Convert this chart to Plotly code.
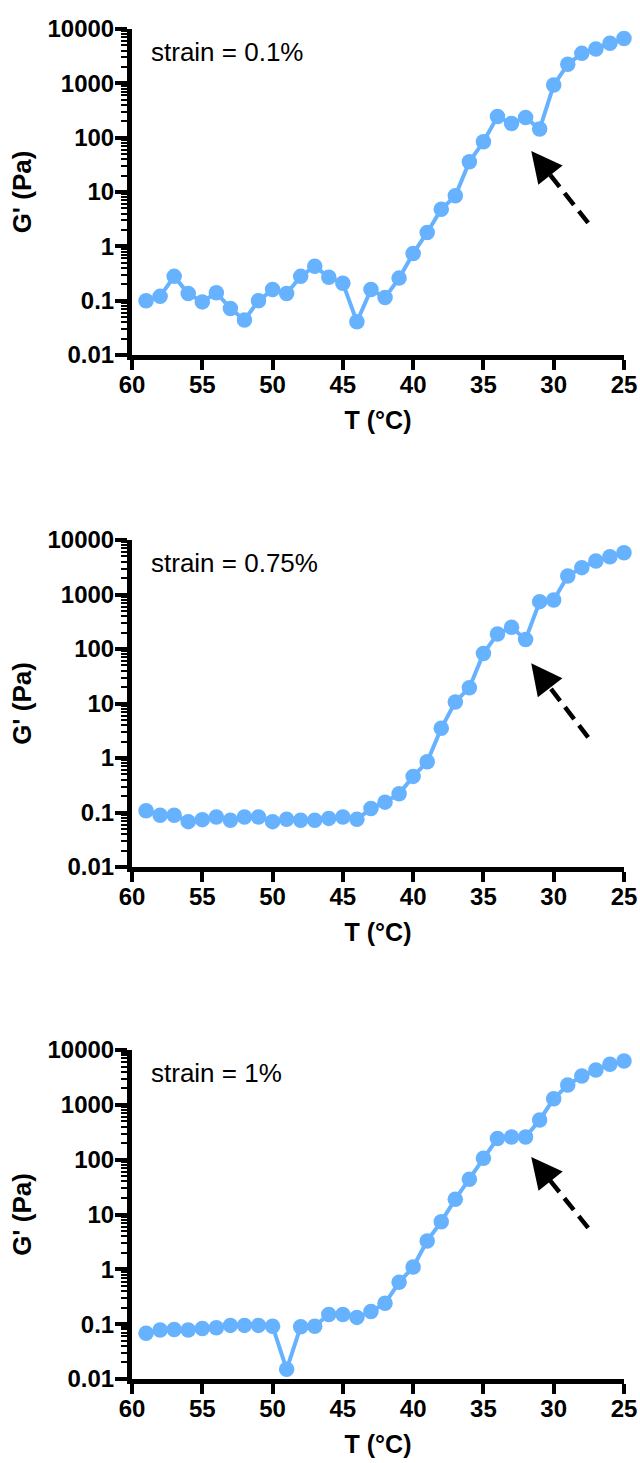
import numpy as np
import plotly.graph_objects as go

# ---------------- data ----------------
temps = list(range(59, 24, -1))  # 59 .. 25 °C

g_strain_01 = [0.10, 0.12, 0.28, 0.135, 0.095, 0.14, 0.072, 0.044, 0.10, 0.16,
               0.135, 0.28, 0.43, 0.27, 0.21, 0.041, 0.16, 0.114, 0.26, 0.74,
               1.8, 4.8, 8.5, 36, 84, 245, 183, 235, 144, 930,
               2240, 3560, 4300, 5470, 6700]

g_strain_075 = [0.108, 0.089, 0.089, 0.068, 0.074, 0.083, 0.072, 0.083, 0.083, 0.068,
                0.075, 0.072, 0.072, 0.078, 0.083, 0.075, 0.118, 0.155, 0.22, 0.46,
                0.85, 3.5, 10.7, 19.5, 83, 188, 250, 150, 740, 790,
                2190, 3110, 4100, 4940, 5850]

g_strain_1 = [0.068, 0.078, 0.080, 0.078, 0.083, 0.086, 0.095, 0.095, 0.095, 0.092,
              0.015, 0.090, 0.092, 0.15, 0.15, 0.133, 0.17, 0.24, 0.58, 1.1,
              3.3, 7.4, 19, 44, 106, 244, 258, 258, 530, 1290,
              2300, 3350, 4320, 5480, 6280]

panel_labels = ["strain = 0.1%", "strain = 0.75%", "strain = 1%"]
series = [g_strain_01, g_strain_075, g_strain_1]

# dashed arrows (tail -> tip) in data units: T (°C), G' (Pa)
arrow_tail_T = [27.55, 27.55, 27.55]
arrow_tail_G = [2.7, 2.4, 5.7]
arrow_tip_T = [31.6, 31.6, 31.6]
arrow_tip_G = [57, 55, 112]

x_ticks = [60, 55, 50, 45, 40, 35, 30, 25]
y_ticks = [0.01, 0.1, 1, 10, 100, 1000, 10000]
y_ticktext = ["0.01", "0.1", "1", "10", "100", "1000", "10000"]

# ---------------- layout geometry ----------------
W, H = 640, 1463
x_dom = [132 / W, 624 / W]
panel_px = [(29, 355), (540, 867), (1050, 1379)]  # page y of top / bottom
y_doms = [[1 - b / H, 1 - t / H] for t, b in panel_px]

LINE_COLOR = "#66B2FF"
FONT = "Liberation Sans, Arial, sans-serif"

minor_vals = [m * 10.0 ** e for e in range(-2, 4) for m in range(2, 10)]

fig = go.Figure()
annotations = []

for i, (vals, label) in enumerate(zip(series, panel_labels)):
    xa = "x" if i == 0 else f"x{i+1}"
    ya = "y" if i == 0 else f"y{i+1}"
    fig.add_trace(go.Scatter(
        x=temps, y=vals, xaxis=xa, yaxis=ya, mode="lines+markers",
        line=dict(color=LINE_COLOR, width=4),
        marker=dict(color=LINE_COLOR, size=15.5),
        cliponaxis=False, showlegend=False, hoverinfo="skip"))

    # dashed arrow shaft
    lt0, lg0 = arrow_tail_T[i], np.log10(arrow_tail_G[i])
    lt1, lg1 = arrow_tip_T[i], np.log10(arrow_tip_G[i])
    f = 0.26  # portion of the arrow covered by the solid head
    mid_T = lt1 + (lt0 - lt1) * f
    mid_lg = lg1 + (lg0 - lg1) * f
    fig.add_trace(go.Scatter(
        x=[arrow_tail_T[i], mid_T], y=[arrow_tail_G[i], 10 ** mid_lg],
        xaxis=xa, yaxis=ya, mode="lines",
        line=dict(color="black", width=4.5, dash="15px,8px"),
        showlegend=False, hoverinfo="skip", cliponaxis=False))
    # arrow head
    annotations.append(dict(
        x=lt1, y=lg1, xref=xa, yref=ya,
        ax=mid_T, ay=mid_lg, axref=xa, ayref=ya,
        showarrow=True, arrowhead=2, arrowsize=1.55, arrowwidth=4,
        arrowcolor="black", text="", standoff=0))

    # strain label
    annotations.append(dict(
        text=label, xref=f"{xa} domain", yref=f"{ya} domain",
        x=0.035, y=0.93, xanchor="left", yanchor="middle", showarrow=False,
        font=dict(family=FONT, size=26, color="black")))

    xaxis = dict(
        domain=x_dom, anchor=ya, range=[60, 25], autorange=False,
        automargin=False,
        tickvals=x_ticks, ticks="outside", ticklen=10, tickwidth=4,
        tickcolor="black", showline=True, linewidth=5, linecolor="black",
        showgrid=False, zeroline=False, ticklabelstandoff=-6,
        tickfont=dict(family=FONT, size=24, color="black", weight="bold"),
        title=dict(text="T (°C)", standoff=16,
                   font=dict(family=FONT, size=25, color="black", weight="bold")))
    yaxis = dict(
        domain=y_doms[i], anchor=xa, type="log", range=[-2, 4], autorange=False,
        automargin=False,
        tickvals=y_ticks, ticktext=y_ticktext, ticks="outside", ticklen=12,
        tickwidth=4, tickcolor="black", showline=True, linewidth=5,
        linecolor="black", showgrid=False, zeroline=False, ticklabelstandoff=-4,
        minor=dict(tickvals=minor_vals, ticks="outside", ticklen=6, tickwidth=2,
                   tickcolor="black", showgrid=False),
        tickfont=dict(family=FONT, size=24, color="black", weight="bold"),
        title=dict(text="G' (Pa)", standoff=10,
                   font=dict(family=FONT, size=26, color="black", weight="bold")))
    fig.update_layout(**{("xaxis" if i == 0 else f"xaxis{i+1}"): xaxis,
                         ("yaxis" if i == 0 else f"yaxis{i+1}"): yaxis})

fig.update_layout(
    width=W, height=H, margin=dict(l=0, r=0, t=0, b=0, autoexpand=False),
    paper_bgcolor="white", plot_bgcolor="white",
    annotations=annotations, showlegend=False)

fig.write_html("out.html", config={"displayModeBar": False},
               post_script="document.body.style.margin='0';"
                           "document.body.style.overflow='hidden';")
